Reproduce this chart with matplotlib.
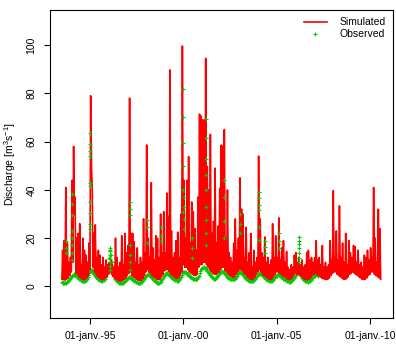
import numpy as np
import pandas as pd
import matplotlib.pyplot as plt
import matplotlib.dates as mdates

plt.rcParams['font.family'] = ['Liberation Sans', 'DejaVu Sans']
plt.rcParams['mathtext.fontset'] = 'custom'
plt.rcParams['mathtext.rm'] = 'Liberation Sans'
plt.rcParams['mathtext.it'] = 'Liberation Sans:italic'

# simulated discharge on a half-month grid (1st / 15th)
sim_1993 = [3, 15, 2.8, 19, 2.6, 41, 3, 18, 3.5, 10, 4.5, 12]  # from July
sim_1994 = [6, 44, 10, 58, 30, 37, 5.5, 20, 5, 22, 4, 26, 3.5, 9, 3, 20, 2.8, 15, 3, 13, 3.5, 10, 4.5, 18]
sim_1995 = [7, 79, 49, 41, 8, 22, 6, 25.5, 5, 12, 4, 15, 3.5, 13, 3, 9, 2.8, 12, 3, 8, 3.5, 11, 4, 9]
sim_1996 = [5, 10, 6, 11, 5, 9, 4, 8, 3.5, 20, 3, 12, 2.5, 8, 2.2, 10, 2.2, 21, 2.5, 9, 3, 22, 3.5, 14]
sim_1997 = [4.5, 17, 5.5, 78, 6, 22, 4.5, 22, 4, 18.5, 3.5, 10, 3, 16, 2.6, 9, 2.4, 12, 2.6, 10, 3.2, 28, 4.5, 14]
sim_1998 = [6, 58.6, 7, 20, 6, 12, 5.5, 43, 4.5, 16, 4, 11, 3.5, 21, 3, 20, 2.8, 12, 3, 30, 4, 14, 5, 31]
sim_1999 = [6.5, 14, 7, 38.7, 7, 29, 6, 89.7, 5, 23, 4.5, 12, 4, 14, 3.5, 19, 3.2, 22.5, 3.5, 12, 4.5, 30, 6, 99.6]
sim_2000 = [9, 44, 8, 20, 8, 44, 7, 53.8, 6, 18, 5.5, 35, 5, 31, 4.5, 24, 4.5, 15, 5, 37, 8, 71.4, 9, 70.6]
sim_2001 = [9, 69, 10, 69, 10, 94.5, 9, 49.7, 8, 40, 7, 63, 6, 22, 5.5, 27, 5, 49, 5, 18, 5.5, 25, 6, 40.7]
sim_2002 = [7, 58.6, 8, 58, 8, 65, 6.5, 20, 6, 40, 5, 14, 4.5, 12, 4, 10, 3.8, 18, 4, 28, 5, 15, 6, 20]
sim_2003 = [7, 45, 7, 32, 6.5, 30, 5.5, 12, 5, 24.5, 4, 10, 3.5, 14, 3, 22, 2.8, 8, 3, 15, 3.8, 10, 5, 12]
sim_2004 = [6, 54, 7, 28, 6, 14, 5, 12, 4.5, 20.5, 4, 10, 3.5, 12, 3, 9, 2.8, 11, 3, 26, 4, 12, 5, 21]
sim_2005 = [6, 12, 6, 28.4, 5.5, 11, 5, 16, 4.5, 19, 4, 10, 3.5, 14.5, 3, 8, 2.8, 7, 2.8, 9, 3.5, 8, 4.5, 13]
sim_2006 = [5.5, 14, 5, 10, 5, 12, 4.5, 9, 4, 11, 3.5, 8, 3, 9, 2.8, 14, 2.8, 15, 3, 11, 3.5, 12, 4.5, 10]
sim_2007 = [5, 12, 5.5, 19, 5, 11, 4.5, 12, 4, 9, 3.5, 17, 3.2, 8, 3, 10, 2.8, 8, 3, 9, 3.5, 19, 4.5, 11]
sim_2008 = [5.5, 39.7, 6, 12, 6, 23, 5, 11, 4.5, 33.4, 4, 12, 3.5, 18, 3, 10, 3, 22, 3.2, 9, 4, 19, 5, 14]
sim_2009 = [5.5, 12, 6, 17, 5.5, 16.5, 5, 10, 4.5, 15, 4, 9, 3.5, 10, 3, 8, 2.8, 13, 3, 12, 3.5, 15, 4.5, 11]
sim_2010 = [5, 16, 6, 12, 6, 41, 5, 20, 4.5, 10, 4, 32, 3.5, 24, 3]  # to August

# observed discharge (baseflow) on the same grid, July 1993 - March 2007
obs_1993 = [1.8, 1.6, 1.5, 1.5, 1.5, 1.6, 1.8, 2.0, 2.3, 2.6, 3.0, 3.4]
obs_1994 = [3.8, 4.2, 4.6, 4.8, 5.0, 4.8, 4.5, 4.2, 3.8, 3.5, 3.2, 3.0, 2.7, 2.5, 2.3, 2.2, 2.1, 2.1, 2.2, 2.5, 3.0, 3.8, 4.6, 5.5]
obs_1995 = [6.5, 7.0, 6.8, 6.2, 5.8, 5.2, 4.8, 4.4, 4.0, 3.6, 3.2, 3.0, 2.8, 2.6, 2.5, 2.4, 2.4, 2.5, 2.8, 3.2, 3.8, 4.5, 5.5, 7.0]
obs_1996 = [9.0, 12.0, 15.0, 13.0, 10.0, 8.0, 6.0, 4.5, 3.5, 3.0, 2.5, 2.2, 2.0, 1.8, 1.6, 1.5, 1.5, 1.5, 1.6, 1.8, 2.0, 2.3, 2.6, 3.0]
obs_1997 = [3.2, 3.5, 3.8, 4.0, 3.8, 3.5, 3.2, 3.0, 2.7, 2.4, 2.2, 2.0, 1.8, 1.7, 1.6, 1.5, 1.5, 1.6, 1.8, 2.0, 2.5, 3.0, 3.5, 4.0]
obs_1998 = [4.5, 4.8, 5.0, 5.0, 4.8, 4.6, 4.3, 4.0, 3.6, 3.2, 2.8, 2.5, 2.2, 2.0, 1.8, 1.6, 1.5, 1.5, 1.7, 2.0, 2.5, 3.0, 3.6, 4.2]
obs_1999 = [4.8, 5.2, 5.5, 5.5, 5.3, 5.0, 4.8, 4.5, 4.2, 3.8, 3.5, 3.2, 3.0, 2.8, 2.6, 2.5, 2.4, 2.4, 2.6, 3.0, 3.5, 4.0, 4.8, 5.5]
obs_2000 = [6.0, 6.2, 6.0, 5.8, 5.5, 5.2, 5.0, 4.6, 4.2, 4.0, 3.8, 3.5, 3.3, 3.1, 3.0, 2.9, 2.9, 3.0, 3.3, 3.8, 4.5, 5.5, 6.5, 7.2]
obs_2001 = [7.5, 7.8, 8.0, 8.0, 7.8, 7.5, 7.0, 6.5, 6.0, 5.5, 5.0, 4.6, 4.2, 3.9, 3.6, 3.4, 3.3, 3.3, 3.5, 3.8, 4.2, 4.8, 5.3, 5.8]
obs_2002 = [6.0, 6.2, 6.3, 6.2, 6.0, 5.6, 5.2, 4.8, 4.4, 4.0, 3.7, 3.5, 3.3, 3.2, 3.1, 3.0, 3.0, 3.1, 3.3, 3.6, 4.0, 4.5, 5.0, 5.5]
obs_2003 = [5.8, 6.0, 5.8, 5.5, 5.2, 4.8, 4.4, 4.0, 3.6, 3.3, 3.0, 2.8, 2.6, 2.4, 2.3, 2.2, 2.1, 2.1, 2.2, 2.5, 3.0, 3.5, 4.0, 4.5]
obs_2004 = [5.0, 5.3, 5.4, 5.3, 5.0, 4.8, 4.5, 4.2, 3.9, 3.6, 3.3, 3.0, 2.8, 2.6, 2.5, 2.4, 2.3, 2.3, 2.4, 2.6, 3.0, 3.4, 3.8, 4.2]
obs_2005 = [4.5, 4.8, 5.0, 4.9, 4.7, 4.4, 4.1, 3.8, 3.5, 3.2, 2.9, 2.7, 2.5, 2.3, 2.2, 2.1, 2.0, 2.0, 2.1, 2.3, 2.6, 3.0, 3.4, 3.8]
obs_2006 = [4.2, 4.6, 5.5, 8.0, 12.0, 9.0, 6.5, 5.0, 4.2, 3.6, 3.2, 2.9, 2.6, 2.4, 2.2, 2.1, 2.0, 2.0, 2.1, 2.3, 2.6, 3.0, 3.4, 3.8]
obs_2007 = [4.2, 4.5, 4.8, 5.0, 4.8, 4.5]

# observed values during flood events (several days stacked on one date)
obs_event_dates = ['1993-09-20', '1994-01-22', '1995-01-08', '1996-02-01', '1997-02-16',
                   '1998-01-12', '1998-11-01', '1999-12-26', '2000-01-20', '2000-06-15',
                   '2001-03-18', '2002-03-15', '2003-01-10', '2004-01-18', '2004-05-10',
                   '2005-02-14', '2006-03-10']
obs_event_values = [[19, 16, 14],
                    [38.5, 34, 29.5, 23, 20, 17, 14, 11],
                    [63.5, 59, 56, 54, 43, 41.5, 35, 30.5, 26, 24],
                    [16, 14.5, 13, 11.5, 10, 8.5, 7],
                    [35, 32, 29.5, 17, 13, 10, 7],
                    [27.5, 24.5, 18],
                    [24.5, 21, 19],
                    [82, 70, 59.5, 50, 40, 31],
                    [37, 33, 28, 24],
                    [20, 16, 12],
                    [69.5, 61.5, 53, 46, 40, 33, 27.5, 22, 17],
                    [44, 37, 27, 20],
                    [30, 26, 22],
                    [39, 36.7, 33.8, 31.7, 24.8, 19.3],
                    [19, 16.5, 14],
                    [22, 19, 16],
                    [20.5, 19, 17.5, 16, 14, 12, 10]]

xtick_dates = ['1995-01-01', '2000-01-01', '2005-01-01', '2010-01-01']
xtick_labels = ['01-janv.-95', '01-janv.-00', '01-janv.-05', '01-janv.-10']
yticks = [0, 20, 40, 60, 80, 100]

sim = (sim_1993 + sim_1994 + sim_1995 + sim_1996 + sim_1997 + sim_1998 + sim_1999 +
       sim_2000 + sim_2001 + sim_2002 + sim_2003 + sim_2004 + sim_2005 + sim_2006 +
       sim_2007 + sim_2008 + sim_2009 + sim_2010)
obs = (obs_1993 + obs_1994 + obs_1995 + obs_1996 + obs_1997 + obs_1998 + obs_1999 +
       obs_2000 + obs_2001 + obs_2002 + obs_2003 + obs_2004 + obs_2005 + obs_2006 +
       obs_2007)
sim_dates = pd.date_range('1993-07-01', periods=len(sim), freq='SMS')
obs_dates = pd.date_range('1993-07-01', periods=len(obs), freq='SMS')

ev_x, ev_y = [], []
for d, vals in zip(obs_event_dates, obs_event_values):
    ev_x += [pd.Timestamp(d)] * len(vals)
    ev_y += vals

obs_style = dict(ls='none', marker='+', ms=3.5, mew=0.8, color='#00cc00')

fig = plt.figure(figsize=(3.96, 3.47), dpi=100)
ax = fig.add_axes([0.126, 0.084, 0.866, 0.887])

ax.plot(obs_dates, obs, zorder=2, **obs_style)
ax.plot(sim_dates, sim, color='#ff0000', lw=1.2, label='Simulated', zorder=3)
ax.plot(ev_x, ev_y, label='Observed', zorder=4, **obs_style)

ax.set_xlim(pd.Timestamp('1992-11-08'), pd.Timestamp('2011-03-26'))
ax.set_ylim(-13, 114.5)
ax.set_xticks([pd.Timestamp(d) for d in xtick_dates])
ax.set_xticklabels(xtick_labels)
ax.set_yticks(yticks)
ax.set_yticklabels([str(v) for v in yticks], rotation=90, va='center')
ax.tick_params(direction='out', length=4.5, width=0.8, labelsize=7.5, pad=5)
for s in ax.spines.values():
    s.set_linewidth(0.8)
ax.set_ylabel('Discharge [m$^3$s$^{-1}$]', fontsize=7.5, labelpad=6)

ax.legend(loc='upper right', frameon=False, fontsize=7.5, handlelength=2.2,
          borderaxespad=0.3, labelspacing=0.2, handletextpad=1.2)

fig.savefig('out.png', dpi=100)
